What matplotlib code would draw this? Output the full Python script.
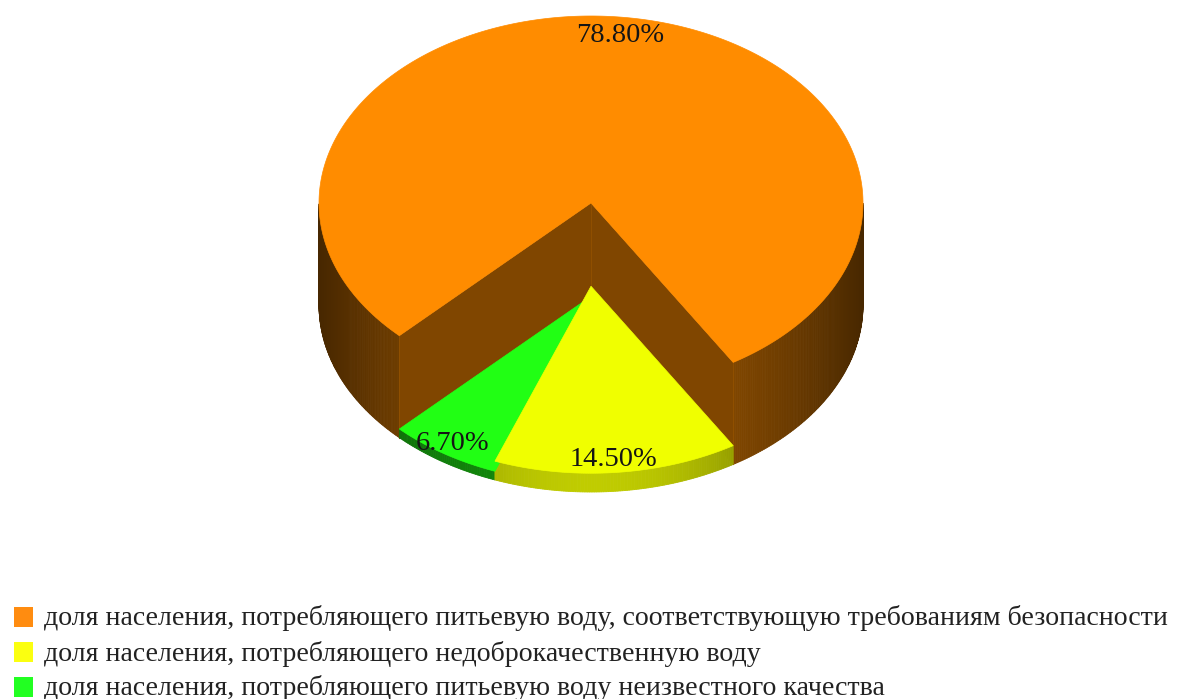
import numpy as np
import matplotlib
matplotlib.use('Agg')
import matplotlib.pyplot as plt
from matplotlib.patches import Polygon, Rectangle

plt.rcParams['font.family'] = ['Liberation Serif', 'DejaVu Serif']

names = ['доля населения, потребляющего питьевую воду, соответствующую требованиям безопасности',
         'доля населения, потребляющего недоброкачественную воду',
         'доля населения, потребляющего питьевую воду неизвестного качества']
values = [78.8, 14.5, 6.7]
colors = [(1.0, 0.55, 0.0), (0.94, 1.0, 0.0), (0.13, 1.0, 0.08)]
legend_colors = ['#FF8C10', '#FBFF10', '#22FF22']

W, H = 1185, 699
cx, cy_base = 591, 305     # centre of the bottom ellipse
rx, ry = 272, 187
px_per_value = 102 / values[0]   # slice height goes with its value
start = -44.8               # orange begins here, degrees from the front, going round the back


def rim(theta, level):
    t = np.radians(theta)
    return cx + rx * np.sin(t), level + ry * np.cos(t)


def shade(col, f):
    return tuple(c * f for c in col)


def wall_factor(x, top, drop):
    u = (x - cx) / rx
    return top - drop * u * u


fig = plt.figure(figsize=(W / 100, H / 100), dpi=100)
ax = fig.add_axes([0, 0, 1, 1])
ax.set_xlim(0, W)
ax.set_ylim(H, 0)
ax.axis('off')

# slice angle ranges
spans = []
a = start
for v in values:
    b = a - v * 3.6
    spans.append((a, b))
    a = b

wall_style = [(0.58, 0.30), (0.80, 0.62), (0.55, 0.2)]
heights = [v * px_per_value for v in values]

# draw from tallest to lowest so the low slices sit in front of the cut
order = [0, 2, 1]
for i in order:
    a, b = spans[i]
    h = heights[i]
    top_level = cy_base - h
    col = colors[i]
    thetas = np.linspace(a, b, int(abs(a - b) * 2) + 2)

    # outer wall, only the part that faces us
    for t0, t1 in zip(thetas[:-1], thetas[1:]):
        if np.cos(np.radians((t0 + t1) / 2)) < 0:
            continue
        x0, y0 = rim(t0, top_level)
        x1, y1 = rim(t1, top_level)
        f = wall_factor((x0 + x1) / 2, *wall_style[i])
        c = shade(col, f)
        ax.add_patch(Polygon([(x0, y0), (x1, y1), (x1, y1 + h), (x0, y0 + h)],
                             closed=True, fc=c, ec=c, lw=0.6,
                             zorder=2 if i == 0 else 4))

    if i == 0:
        # the two inner walls of the cut
        wall = shade(col, 0.50)
        for t in (a, b):
            x, y = rim(t, top_level)
            ax.add_patch(Polygon([(cx, top_level), (x, y), (x, y + h), (cx, top_level + h)],
                                 closed=True, fc=wall, ec=wall, lw=0.5, zorder=3))
            ax.plot([x, x], [y, y + h], color=shade(col, 0.56), lw=0.8, zorder=3.5)
        ax.plot([cx, cx], [top_level, top_level + h], color=shade(col, 0.56), lw=0.8, zorder=3.5)

    # flat top of the slice
    pts = [(cx, top_level)] + [rim(t, top_level) for t in thetas]
    z = 6 if i == 0 else 4.5 + (i == 1)
    ax.add_patch(Polygon(pts, closed=True, fc=col, ec=col, lw=0.5, zorder=z))

# value labels
label_pos = [(620, 35), (613, 459), (453, 444)]
for v, (x, y) in zip(values, label_pos):
    ax.text(x, y, f'{v:.2f}%', fontsize=20.5, ha='center', va='center', color='#151515', zorder=8)

# legend
marker_y = [617, 652, 687]
text_y = [618, 654, 688]
for name, c, my, ty in zip(names, legend_colors, marker_y, text_y):
    ax.add_patch(Rectangle((14, my - 10), 19, 20, fc=c, ec='none', zorder=8))
    ax.text(44, ty, name, fontsize=20.1, ha='left', va='center', color='#222222', zorder=8)

fig.savefig('out.png', dpi=100)
